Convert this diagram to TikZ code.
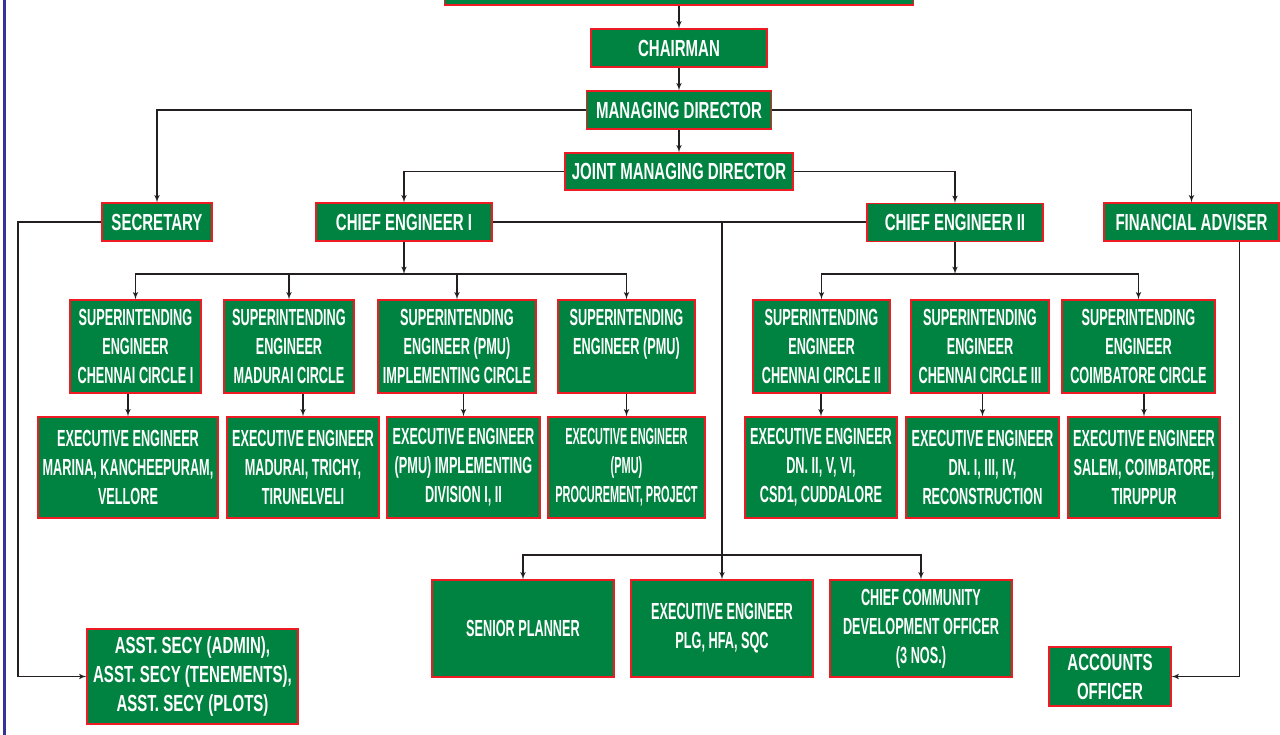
\documentclass[tikz,border=0pt]{standalone}
\usepackage{fontspec}
\newfontfamily\chartfont{Liberation Sans}[FakeStretch=0.645]
\newfontfamily\narrowfont{Liberation Sans}[FakeStretch=0.545]
\newfontfamily\tightfont{Liberation Sans}[FakeStretch=0.47]
\usepackage{tikz}
\usetikzlibrary{arrows}
\definecolor{postgreen}{RGB}{0,130,64}
\definecolor{postred}{RGB}{237,28,36}
\definecolor{edgeblue}{RGB}{51,51,153}
\definecolor{linkgray}{RGB}{35,31,32}
\tikzset{
  post/.style={draw=postred, fill=postgreen, line width=1.2pt, text=white,
    align=center, inner sep=0pt, font=\chartfont\bfseries\fontsize{23.3}{29}\selectfont},
  narrow/.style={post, font=\narrowfont\bfseries\fontsize{23.3}{29}\selectfont},
  tight/.style={post, font=\tightfont\bfseries\fontsize{23.3}{29}\selectfont},
  wh/.style 2 args={minimum width=#1pt, minimum height=#2pt},
  link/.style={draw=linkgray, line width=1.5pt, -latex'},
}
\begin{document}
\begin{tikzpicture}[x=1pt,y=-1pt]
\useasboundingbox (0,0) rectangle (1280,735);
\draw[edgeblue, line width=3pt] (4.5,0) -- (4.5,735);
\node (top)   [post, wh={469}{50}]  at (679,-20)   {};
\node (chair) [post, wh={176}{38}]  at (679,48)    {CHAIRMAN};
\node (md)    [post, wh={185}{38}]  at (679,110)   {MANAGING DIRECTOR};
\node (jmd)   [post, wh={228}{37}]  at (679,171.5) {JOINT MANAGING DIRECTOR};
\node (sec)   [post, wh={110}{38}]  at (157,222)   {SECRETARY};
\node (ce1)   [post, wh={176}{38}]  at (404,222)   {CHIEF ENGINEER I};
\node (ce2)   [post, wh={176}{38}]  at (955,222.5) {CHIEF ENGINEER II};
\node (fa)    [post, wh={175}{38}]  at (1191.5,222) {FINANCIAL ADVISER};
\node (se1) [narrow, wh={131}{93}] at (135.5,346.5) {SUPERINTENDING\\ENGINEER\\CHENNAI CIRCLE I};
\node (se2) [narrow, wh={130}{93}] at (289,346.5)   {SUPERINTENDING\\ENGINEER\\MADURAI CIRCLE};
\node (se3) [narrow, wh={158}{93}] at (457,346.5)   {SUPERINTENDING\\ENGINEER (PMU)\\IMPLEMENTING CIRCLE};
\node (se4) [narrow, wh={137}{93}] at (626.5,346.5) {SUPERINTENDING\\ENGINEER (PMU)\\\mbox{}};
\node (se5) [narrow, wh={137}{93}] at (821.5,346.5) {SUPERINTENDING\\ENGINEER\\CHENNAI CIRCLE II};
\node (se6) [narrow, wh={138}{93}] at (980,346.5)   {SUPERINTENDING\\ENGINEER\\CHENNAI CIRCLE III};
\node (se7) [narrow, wh={153}{93}] at (1138.5,346.5) {SUPERINTENDING\\ENGINEER\\COIMBATORE CIRCLE};
\node (ee1) [narrow, wh={180}{101}] at (128,467.5)   {EXECUTIVE ENGINEER\\MARINA, KANCHEEPURAM,\\VELLORE};
\node (ee2) [narrow, wh={152}{101}] at (303,467.5)   {EXECUTIVE ENGINEER\\MADURAI, TRICHY,\\TIRUNELVELI};
\node (ee3) [narrow, wh={153}{101}] at (463.5,467.5) {EXECUTIVE ENGINEER\\(PMU) IMPLEMENTING\\DIVISION I, II};
\node (ee4) [tight,  wh={157}{101}] at (626.5,467.5) {EXECUTIVE ENGINEER\\(PMU)\\PROCUREMENT, PROJECT};
\node (ee5) [narrow, wh={152}{101}] at (821,467.5)   {EXECUTIVE ENGINEER\\DN. II, V, VI,\\CSD1, CUDDALORE};
\node (ee6) [narrow, wh={153}{101}] at (982.5,467.5) {EXECUTIVE ENGINEER\\DN. I, III, IV,\\RECONSTRUCTION};
\node (ee7) [narrow, wh={152}{101}] at (1144,467.5)  {EXECUTIVE ENGINEER\\SALEM, COIMBATORE,\\TIRUPPUR};
\node (sp)   [narrow, wh={182}{97}] at (523,628.5) {SENIOR PLANNER};
\node (plg)  [narrow, wh={182}{97}] at (722,628.5) {EXECUTIVE ENGINEER\\PLG, HFA, SQC};
\node (ccdo) [narrow, wh={182}{97}] at (921,628.5) {CHIEF COMMUNITY\\DEVELOPMENT OFFICER\\(3 NOS.)};
\node (asst) [post, wh={211}{95}] at (192.5,676.5) {ASST. SECY (ADMIN),\\ASST. SECY (TENEMENTS),\\ASST. SECY (PLOTS)};
\node (ao)   [post, wh={122}{59}] at (1110,676.5) {ACCOUNTS\\OFFICER};
\coordinate (bus1) at (404,274);
\coordinate (bus2) at (955,274);
\coordinate (split) at (722,222);
\coordinate (bus3) at (722,555);
\coordinate (secturn) at (18,222);
\draw[link] (top) -- (chair);
\draw[link] (chair) -- (md);
\draw[link] (md) -- (jmd);
\draw[link] (md.west) -| (sec.north);
\draw[link] (md.east) -| (fa.north);
\draw[link] (jmd.west) -| (ce1.north);
\draw[link] (jmd.east) -| (ce2.north);
\draw[link, -] (ce1.east) -- (ce1.east -| ce2.west);
\draw[link] (ce1) -- (bus1);
\foreach \n in {se1,se2,se3,se4} \draw[link] (bus1) -| (\n.north);
\draw[link] (ce2) -- (bus2);
\foreach \n in {se5,se7} \draw[link] (bus2) -| (\n.north);
\foreach \s/\e in {se1/ee1,se2/ee2,se3/ee3,se4/ee4,se5/ee5,se6/ee6,se7/ee7}
  \draw[link] (\e.north |- \s.south) -- (\e.north);
\draw[link] (split) -- (plg);
\draw[link] (bus3) -| (sp.north);
\draw[link] (bus3) -| (ccdo.north);
\draw[link] (sec.west) -- (secturn) |- (asst.west);
\draw[link] ([xshift=48pt]fa.south) |- (ao.east);
\end{tikzpicture}
\end{document}
